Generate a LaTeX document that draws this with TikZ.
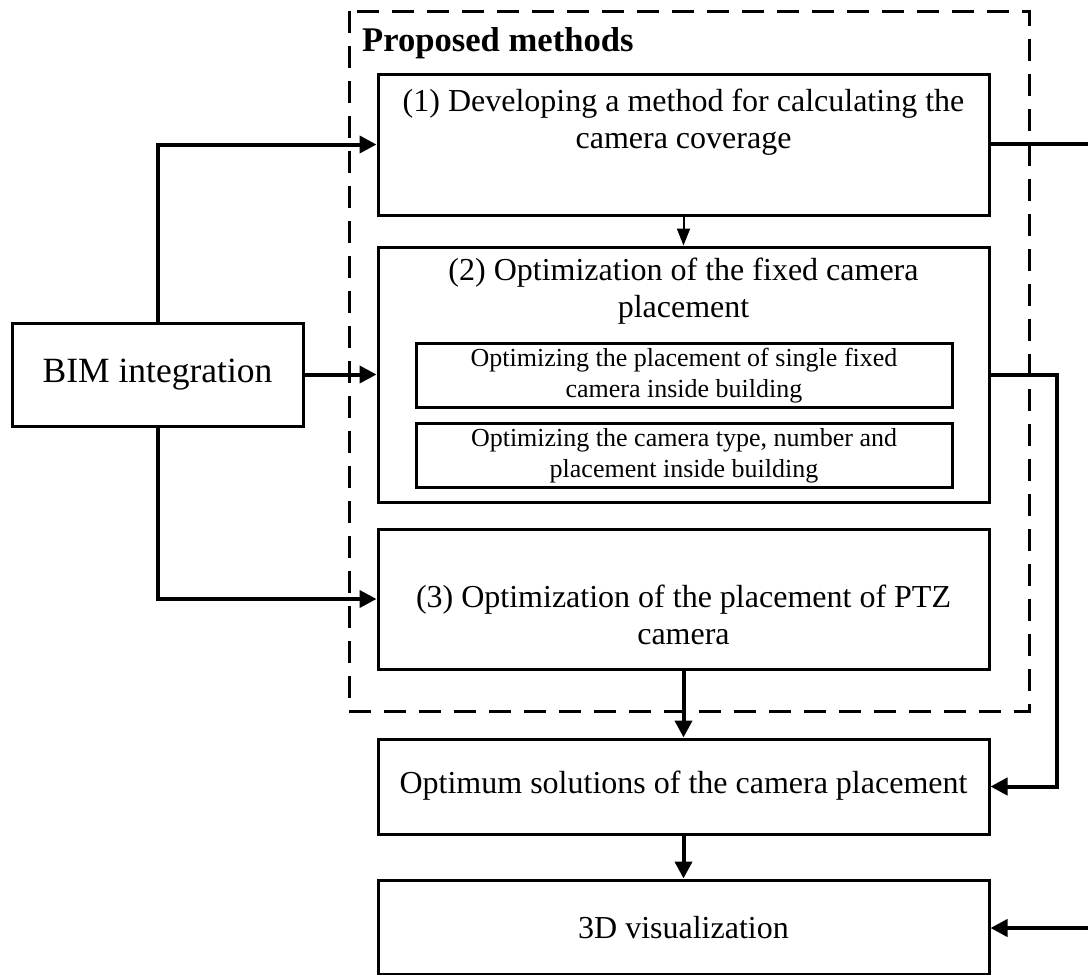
\documentclass[tikz,border=0pt]{standalone}
\usepackage{fontspec}
\setmainfont{Liberation Serif}
\usetikzlibrary{arrows.meta}

\tikzset{
  box/.style={draw=black, line width=3pt, inner sep=0pt, fill=white},
  subbox/.style={draw=black, line width=3pt, inner sep=0pt},
  frame/.style={draw=black, line width=3pt, dash pattern=on 22pt off 13pt},
  txt/.style={inner sep=0pt, align=center, font=\fontsize{32}{37}\selectfont},
  smalltxt/.style={inner sep=0pt, align=center, font=\fontsize{26}{31}\selectfont},
  flow/.style={line width=4pt, -{Triangle[length=17pt,width=17pt]}},
  thinflow/.style={line width=2pt, -{Triangle[length=17pt,width=13pt]}},
  link/.style={line width=4pt},
}

\begin{document}
\begin{tikzpicture}[x=1pt, y=-1pt]
  \useasboundingbox (0,0) rectangle (1088,975);

  % dashed frame around the proposed methods
  \draw[frame] (349,11) rectangle (1029,711);
  \node[inner sep=0pt, anchor=base west, font=\fontsize{34.6}{40}\selectfont\bfseries]
    (title) at (362,51) {Proposed methods};

  % boxes
  \node[box, minimum width=611pt, minimum height=141pt] (b1) at (683.5,144.5) {};
  \node[box, minimum width=611pt, minimum height=255pt] (b2) at (683.5,374.5) {};
  \node[subbox, minimum width=536pt, minimum height=64pt] (s1) at (684,375) {};
  \node[subbox, minimum width=536pt, minimum height=64pt] (s2) at (684,455) {};
  \node[box, minimum width=611pt, minimum height=140pt] (b3) at (683.5,599) {};
  \node[box, minimum width=611pt, minimum height=95pt] (opt) at (683.5,786.5) {};
  \node[box, minimum width=611pt, minimum height=94pt] (vis) at (683.5,927) {};
  \node[box, minimum width=291pt, minimum height=103pt] (bim) at (157.5,374.5) {};

  % texts
  \node[txt] (t1) at (683.5,122) {(1) Developing a method for calculating the\\camera coverage};
  \node[txt] (t2) at (683.5,291) {(2) Optimization of the fixed camera\\placement};
  \node[smalltxt] (ts1) at (684,376) {Optimizing the placement of single fixed\\camera inside building};
  \node[smalltxt] (ts2) at (684,456) {Optimizing the camera type, number and\\placement inside building};
  \node[txt] (t3) at (683.5,615) {(3) Optimization of the placement of PTZ\\camera};
  \node[txt] (topt) at (683.5,786) {Optimum solutions of the camera placement};
  \node[txt] (tvis) at (683.5,928) {3D visualization};
  \node[txt, font=\fontsize{35.5}{40}\selectfont] (tbim) at (157.5,375) {BIM integration};

  % free ends at the right border
  \coordinate (outA) at (1088,144);
  \coordinate (outB) at (1088,928);
  \coordinate (rail) at (1057,0);

  % connectors
  \draw[flow] (bim.north) |- (b1.west);
  \draw[flow] (bim.east) -- (b2.west);
  \draw[flow] (bim.south) |- (b3.west);
  \draw[thinflow] (b1.south) -- (b2.north);
  \draw[flow] (b3.south) -- (opt.north);
  \draw[flow] (opt.south) -- (vis.north);
  \draw[link] (b1.east |- outA) -- (outA);
  \draw[flow] (b2.east) -- (rail |- b2.east) -- (rail |- opt.east) -- (opt.east);
  \draw[flow] (outB) -- (vis.east |- outB);
\end{tikzpicture}
\end{document}
